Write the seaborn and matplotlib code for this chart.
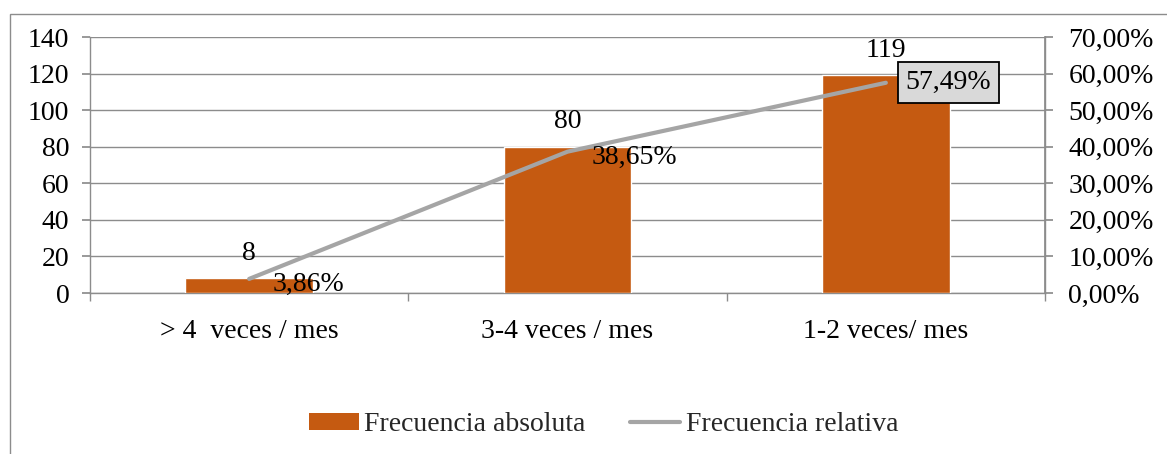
import matplotlib
matplotlib.use("Agg")
import matplotlib.pyplot as plt
import matplotlib.patches as mpatches
from matplotlib.lines import Line2D
from matplotlib.ticker import FixedLocator, FuncFormatter
import seaborn as sns
import pandas as pd

categorias = ["> 4  veces / mes", "3-4 veces / mes", "1-2 veces/ mes"]
frec_absoluta = [8, 80, 119]
frec_relativa = [3.86, 38.65, 57.49]

sns.set_theme(style="white")
plt.rcParams["font.family"] = ["Liberation Serif", "DejaVu Serif"]

BAR = "#C55A11"
LINE = "#A5A5A5"
GRID = "#8C8C8C"
FS = 20

fig = plt.figure(figsize=(11.67, 4.54), dpi=100)
ax = fig.add_axes([0.0771, 0.3546, 0.8184, 0.5639])

# outer chart frame
fig.patches.append(mpatches.Rectangle((0.0086, -0.02), 1.05, 0.989, transform=fig.transFigure,
                                      fill=False, edgecolor="#8C8C8C", linewidth=1.0))

df = pd.DataFrame({"cat": categorias, "abs": frec_absoluta})
sns.barplot(data=df, x="cat", y="abs", color=BAR, saturation=1, width=0.4, ax=ax, zorder=3)
ax.set_xlim(-0.5, 2.5)
ax.set_ylim(0, 140)
ax.set_yticks(range(0, 141, 20))
ax.yaxis.grid(True, color=GRID, linewidth=1.0)
ax.set_axisbelow(True)
ax.set_xlabel("")
ax.set_ylabel("")
ax.spines["top"].set_visible(False)
for s in ["left", "bottom", "right"]:
    ax.spines[s].set_color(GRID)
    ax.spines[s].set_linewidth(1.0)
ax.tick_params(axis="y", which="major", direction="out", length=5.8, color=GRID,
               labelsize=FS, labelcolor="black", pad=9, left=True)
ax.tick_params(axis="x", which="major", length=0, labelsize=FS, labelcolor="black", pad=19)
ax.xaxis.set_minor_locator(FixedLocator([-0.5, 0.5, 1.5, 2.5]))
ax.tick_params(axis="x", which="minor", direction="out", length=5.8, color=GRID, bottom=True)

for i, v in enumerate(frec_absoluta):
    ax.annotate(f"{v}", (i, v), xytext=(0, 9), textcoords="offset points",
                ha="center", va="bottom", fontsize=FS, color="black", zorder=6)

ax2 = ax.twinx()
sns.lineplot(x=list(range(len(frec_relativa))), y=frec_relativa, ax=ax2, color=LINE,
             linewidth=3, zorder=4)
ax2.set_ylim(0, 70)
ax2.set_yticks(range(0, 71, 10))
ax2.yaxis.set_major_formatter(FuncFormatter(lambda v, p: f"{v:.2f}%".replace(".", ",")))
ax2.tick_params(axis="y", direction="out", length=5.8, color=GRID, labelsize=FS,
                labelcolor="black", pad=11, right=True)
for s in ["top", "left", "bottom"]:
    ax2.spines[s].set_visible(False)
ax2.spines["right"].set_color(GRID)
ax2.set_ylabel("")

for i, v in enumerate(frec_relativa):
    txt = f"{v:.2f}%".replace(".", ",")
    if i == len(frec_relativa) - 1:
        ax2.annotate(txt, (i, v), xytext=(14, 0), textcoords="offset points",
                     ha="left", va="center", fontsize=FS, color="black", zorder=7,
                     bbox=dict(boxstyle="square,pad=0.28", facecolor="#D9D9D9",
                               edgecolor="black", linewidth=1.3))
    else:
        ax2.annotate(txt, (i, v), xytext=(17, -4), textcoords="offset points",
                     ha="left", va="center", fontsize=FS, color="black", zorder=7)

handles = [mpatches.Patch(facecolor=BAR, edgecolor="none"),
           Line2D([], [], color=LINE, linewidth=3)]
fig.legend(handles, ["Frecuencia absoluta", "Frecuencia relativa"], loc="center",
           bbox_to_anchor=(0.517, 0.064), ncol=2, frameon=False, fontsize=FS,
           handlelength=1.8, handletextpad=0.2, columnspacing=1.6, handleheight=0.6)

fig.savefig("out.png", dpi=100)
